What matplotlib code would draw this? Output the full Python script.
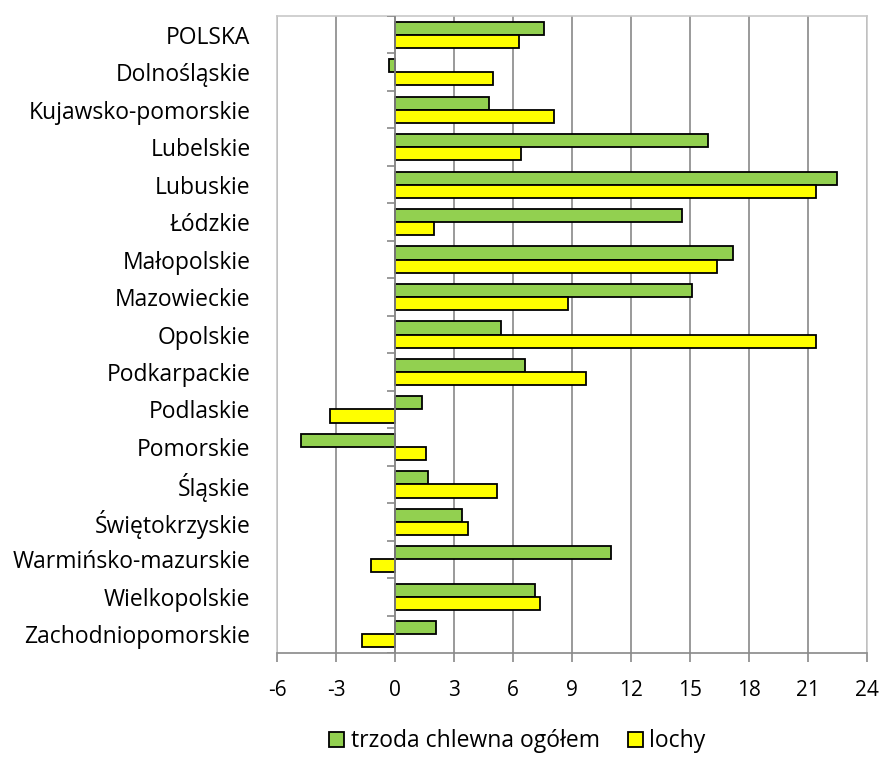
import numpy as np
import matplotlib.pyplot as plt

regions = ["POLSKA", "Dolnośląskie", "Kujawsko-pomorskie", "Lubelskie", "Lubuskie",
           "Łódzkie", "Małopolskie", "Mazowieckie", "Opolskie", "Podkarpackie",
           "Podlaskie", "Pomorskie", "Śląskie", "Świętokrzyskie",
           "Warmińsko-mazurskie", "Wielkopolskie", "Zachodniopomorskie"]
trzoda = [7.6, -0.3, 4.8, 15.9, 22.5, 14.6, 17.2, 15.1, 5.4, 6.6,
          1.4, -4.8, 1.7, 3.4, 11.0, 7.1, 2.1]
lochy = [6.3, 5.0, 8.1, 6.4, 21.4, 2.0, 16.4, 8.8, 21.4, 9.7,
         -3.3, 1.6, 5.2, 3.7, -1.2, 7.4, -1.7]
xticks = np.arange(-6, 25, 3)

plt.rcParams['font.family'] = ['Open Sans', 'DejaVu Sans']

fig = plt.figure(figsize=(8.81, 7.58), dpi=100)
ax = fig.add_axes([0.3144, 0.1385, 0.6696, 0.8404])

y = np.arange(len(regions))
h = 0.35
ax.barh(y - h / 2, trzoda, height=h, color="#92D050", edgecolor="black",
        linewidth=1.3, label="trzoda chlewna ogółem", zorder=3)
ax.barh(y + h / 2, lochy, height=h, color="#FFFF00", edgecolor="black",
        linewidth=1.3, label="lochy", zorder=3)

ax.set_xlim(-6, 24)
ax.set_ylim(len(regions) - 0.5, -0.5)
ax.set_xticks(xticks)
ax.set_xticklabels([str(t) for t in xticks], fontsize=15)
ax.set_yticks(y)
ax.set_yticklabels(regions, fontsize=16.5)
ax.tick_params(axis="y", length=0, pad=19)
ax.tick_params(axis="x", length=6.5, width=1.2, color="#898989", pad=13)

ax.grid(axis="x", color="#898989", linewidth=1.2, zorder=0)
for side in ["left", "top", "right"]:
    ax.spines[side].set_color("#C8C8C8")
    ax.spines[side].set_linewidth(1.2)
ax.spines["bottom"].set_color("#898989")
ax.spines["bottom"].set_linewidth(1.2)

# value axis crossing at zero with category separator ticks
ax.axvline(0, color="#898989", linewidth=1.2, zorder=4)
bounds = np.arange(len(regions) + 1) - 0.5
ax.hlines(bounds, -0.4, 0, color="#898989", linewidth=1.2, zorder=4)

fig.legend(loc="center", bbox_to_anchor=(0.5874, 0.022), ncol=2, frameon=False,
           fontsize=16.5, handlelength=0.65, handleheight=0.65, handletextpad=0.3,
           columnspacing=1.2, borderpad=0)

fig.savefig("out.png", dpi=100)
